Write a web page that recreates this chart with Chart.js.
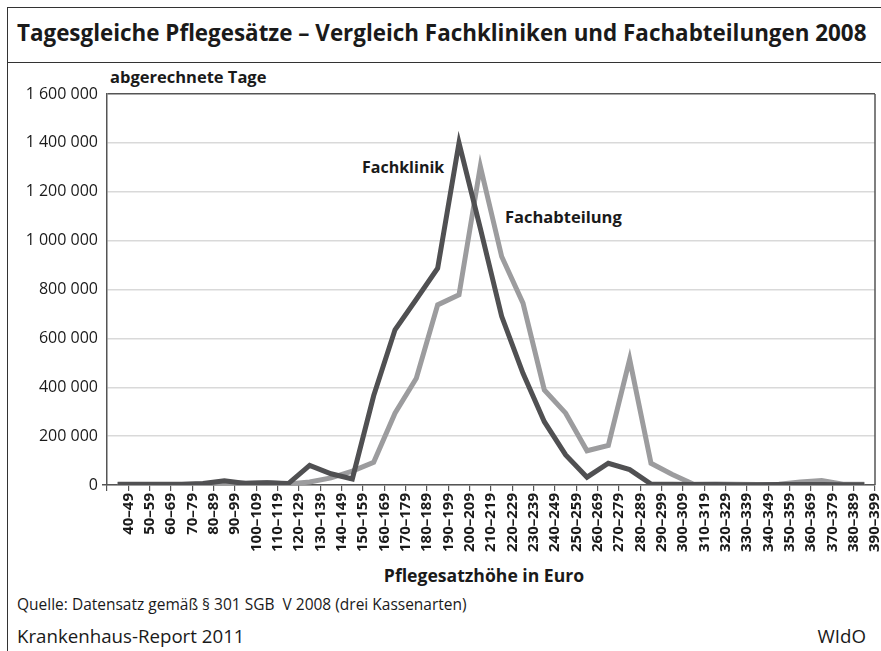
<!DOCTYPE html>
<html lang="de">
<head>
<meta charset="utf-8">
<title>Tagesgleiche Pflegesätze</title>
<script src="https://cdn.jsdelivr.net/npm/chart.js@4.4.1/dist/chart.umd.min.js"></script>
<style>
  html, body { margin: 0; padding: 0; background: #fff; }
  body { width: 881px; height: 651px; position: relative; overflow: hidden;
         font-family: "Open Sans", "Noto Sans", sans-serif; color: #1a1a1a; }
  #chart { position: absolute; left: 0; top: 0; }
  .t { position: absolute; white-space: nowrap; }
  .frame { position: absolute; left: 7px; top: 7px; width: 880px; height: 650px;
           border-left: 1.5px solid #333; border-top: 1.5px solid #333; }
  .sep { position: absolute; left: 7px; top: 62px; width: 880px; border-top: 1.5px solid #333; }
</style>
</head>
<body>
<div class="frame"></div>
<div class="sep"></div>
<div class="t" style="left:17px; top:18px; line-height:30px; font-size:22.4px; font-weight:700;">Tagesgleiche Pflegesätze – Vergleich Fachkliniken und Fachabteilungen 2008</div>
<div class="t" style="left:110px; top:67px; line-height:20px; font-size:16.5px; font-weight:700;">abgerechnete Tage</div>
<div class="t" style="left:362px; top:157px; line-height:20px; font-size:16px; font-weight:700;">Fachklinik</div>
<div class="t" style="left:505px; top:207px; line-height:20px; font-size:16.5px; font-weight:700;">Fachabteilung</div>
<div class="t" style="left:284px; width:400px; text-align:center; top:565px; line-height:20px; font-size:17.6px; font-weight:700;">Pflegesatzhöhe in Euro</div>
<div class="t" style="left:17px; top:594px; line-height:20px; font-size:15.5px;">Quelle: Datensatz gemäß § 301 SGB&nbsp; V 2008 (drei Kassenarten)</div>
<div class="t" style="left:17px; top:625px; line-height:22px; font-size:18.7px;">Krankenhaus-Report 2011</div>
<div class="t" style="right:15px; top:625px; line-height:22px; font-size:18.7px;">WIdO</div>
<canvas id="chart" width="881" height="651"></canvas>
<script>
// Pflegesatz-Klassen in Euro
const klassen = ["40–49", "50–59", "60–69", "70–79", "80–89", "90–99", "100–109", "110–119",
  "120–129", "130–139", "140–149", "150–159", "160–169", "170–179", "180–189", "190–199",
  "200–209", "210–219", "220–229", "230–239", "240–249", "250–259", "260–269", "270–279",
  "280–289", "290–299", "300–309", "310–319", "320–329", "330–339", "340–349", "350–359",
  "360–369", "370–379", "380–389", "390–399"];

// abgerechnete Tage
const fachklinik = [3000, 3000, 3000, 3000, 6000, 17000, 6000, 9000,
  6000, 80000, 46000, 25000, 365000, 635000, 760000, 887000,
  1400000, 1050000, 690000, 457000, 259000, 123000, 32000, 89000,
  63000, 4000, 3000, 2000, 2000, 1000, 1000, 2000,
  2000, 2000, 1000, 1000];
const fachabteilung = [2000, 2000, 2000, 2000, 3000, 5000, 8000, 10000,
  4000, 12000, 29000, 57000, 93000, 294000, 437000, 737000,
  778000, 1304000, 935000, 744000, 389000, 294000, 140000, 162000,
  514000, 89000, 43000, 3000, 4000, 3000, 2000, 3000,
  12000, 18000, 3000, 3000];

const yTicks = [0, 200000, 400000, 600000, 800000, 1000000, 1200000, 1400000, 1600000];

function tausender(v) {
  return String(v).replace(/\B(?=(\d{3})+(?!\d))/g, " ");
}

// rechter Rahmen der Zeichenfläche
const rahmen = {
  id: "rahmen",
  afterDraw(chart) {
    const { ctx, chartArea } = chart;
    ctx.save();
    ctx.strokeStyle = "#555";
    ctx.lineWidth = 1.5;
    ctx.beginPath();
    ctx.moveTo(chartArea.right, chartArea.top);
    ctx.lineTo(chartArea.right, chartArea.bottom);
    ctx.stroke();
    ctx.restore();
  }
};

const ctx = document.getElementById("chart").getContext("2d");
const chart = new Chart(ctx, {
  type: "line",
  data: {
    labels: klassen,
    datasets: [
      {
        label: "Fachklinik",
        data: fachklinik,
        borderColor: "#505052",
        borderWidth: 5,
        pointRadius: 0,
        tension: 0,
        fill: false,
      },
      {
        label: "Fachabteilung",
        data: fachabteilung,
        borderColor: "#9c9c9e",
        borderWidth: 5,
        pointRadius: 0,
        tension: 0,
        fill: false,
      },
    ],
  },
  options: {
    responsive: false,
    devicePixelRatio: 1,
    animation: false,
    layout: { padding: { top: 94, right: 6, left: 0, bottom: 0 } },
    plugins: {
      legend: { display: false },
      tooltip: { enabled: false },
    },
    scales: {
      x: {
        offset: true,
        grid: { offset: true, drawOnChartArea: false, tickLength: 6, color: "#555", lineWidth: 1.2 },
        border: { color: "#555", width: 1.5 },
        ticks: {
          autoSkip: false,
          minRotation: 90,
          maxRotation: 90,
          labelOffset: 10.67,
          padding: 2,
          color: "#1a1a1a",
          font: { family: "'Open Sans', 'Noto Sans', sans-serif", size: 15, weight: "bold" },
        },
        afterFit(scale) {
          scale.height = 166;
          scale.paddingLeft = 0;
          scale.paddingRight = 0;
        },
      },
      y: {
        min: 0,
        max: 1600000,
        afterBuildTicks(scale) {
          scale.ticks = yTicks.map((v) => ({ value: v }));
        },
        grid: {
          color: (c) => (c.tick && c.tick.value === 1600000 ? "#555" : "#d9d9d9"),
          lineWidth: 1.5,
          tickLength: 5,
          tickColor: (c) => (c.tick && c.tick.value === 0 ? "#555" : "rgba(0,0,0,0)"),
        },
        border: { color: "#555", width: 1.5 },
        ticks: {
          padding: 4,
          color: "#1a1a1a",
          font: { family: "'Open Sans', 'Noto Sans', sans-serif", size: 16 },
          callback: (v) => tausender(v),
        },
        afterFit(scale) {
          scale.width = 107;
          scale.paddingTop = 0;
          scale.paddingBottom = 0;
        },
      },
    },
  },
  plugins: [rahmen],
});
</script>
</body>
</html>
